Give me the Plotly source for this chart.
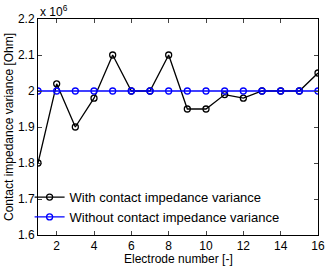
import plotly.graph_objects as go

electrodes = list(range(1, 17))
with_var = [1.80, 2.02, 1.90, 1.98, 2.10, 2.00, 2.00, 2.10, 1.95, 1.95, 1.99, 1.98, 2.00, 2.00, 2.00, 2.05]
without_var = [2.00] * 16
x_ticks = [2, 4, 6, 8, 10, 12, 14, 16]
y_ticks = [1.6, 1.7, 1.8, 1.9, 2.0, 2.1, 2.2]
y_labels = ["1.6", "1.7", "1.8", "1.9", "2", "2.1", "2.2"]

fig = go.Figure()
fig.add_trace(go.Scatter(x=electrodes, y=with_var, mode="lines+markers",
                         name="With contact impedance variance",
                         line=dict(color="black", width=1.3),
                         marker=dict(symbol="circle-open", size=6, color="black", line=dict(width=1.3))))
fig.add_trace(go.Scatter(x=electrodes, y=without_var, mode="lines+markers",
                         name="Without contact impedance variance",
                         line=dict(color="#0000ff", width=1.3),
                         marker=dict(symbol="circle-open", size=6, color="#0000ff", line=dict(width=1.3))))

font = dict(family="Liberation Sans, Arial, sans-serif", size=12, color="black")
fig.update_layout(
    width=326, height=269,
    margin=dict(l=38, r=8, t=19, b=34, autoexpand=False),
    paper_bgcolor="white", plot_bgcolor="white",
    font=font,
    showlegend=True,
    legend=dict(x=-0.03, y=0.245, xanchor="left", yanchor="top",
                bgcolor="rgba(0,0,0,0)", font=dict(size=13), itemwidth=30,
                tracegroupgap=0),
    xaxis=dict(range=[1, 16], tickvals=x_ticks, ticks="inside", ticklen=4,
               showline=True, linecolor="black", linewidth=1, mirror="ticks",
               showgrid=False, zeroline=False, automargin=False),
    yaxis=dict(range=[1.6, 2.2], tickvals=y_ticks, ticktext=y_labels, ticks="inside", ticklen=4,
               showline=True, linecolor="black", linewidth=1, mirror="ticks",
               showgrid=False, zeroline=False, automargin=False),
    annotations=[
        dict(text="x 10<sup>6</sup>", xref="paper", yref="paper", x=0.0, y=1.0,
             xanchor="left", yanchor="bottom", showarrow=False,
             font=dict(size=12), yshift=-2),
        dict(text="Electrode number [-]", xref="paper", yref="paper", x=0.5, y=0,
             xanchor="center", yanchor="top", showarrow=False,
             font=dict(size=12), yshift=-15),
        dict(text="Contact impedance variance [Ohm]", xref="paper", yref="paper", x=0, y=0.5,
             xanchor="right", yanchor="middle", showarrow=False, textangle=-90,
             font=dict(size=12), xshift=-20),
    ],
)
fig.write_html("out.html", config={"displayModeBar": False},
               post_script="document.body.style.margin='0';document.body.style.overflow='hidden';")
